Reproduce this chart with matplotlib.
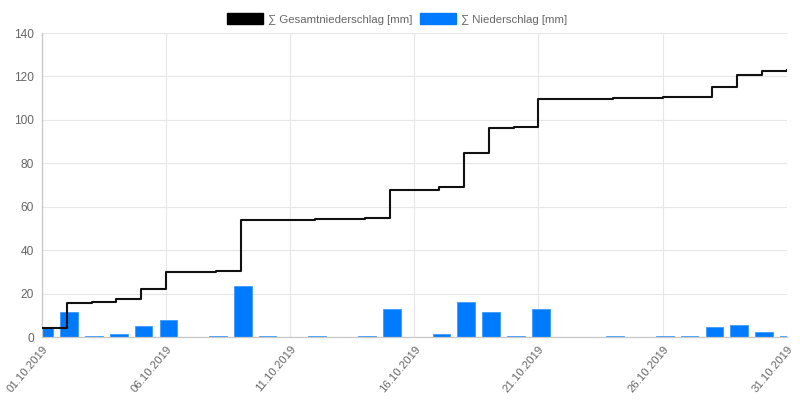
import matplotlib
matplotlib.use("Agg")
import matplotlib.pyplot as plt
from matplotlib.patches import Patch

plt.rcParams['font.family'] = ['Liberation Sans', 'DejaVu Sans']

days = [f"{d:02d}.10.2019" for d in range(1, 32)]
daily = [4.3, 11.5, 0.4, 1.5, 5.0, 7.7, 0.0, 0.4, 23.4, 0.4,
         0.0, 0.3, 0.0, 0.3, 13.0, 0.0, 1.5, 16.0, 11.6, 0.3,
         13.1, 0.0, 0.0, 0.3, 0.0, 0.5, 0.3, 4.6, 5.6, 2.1, 0.3]
total = [4.3, 15.6, 16.0, 17.4, 22.3, 30.0, 30.0, 30.6, 53.7, 54.0,
         54.0, 54.3, 54.3, 54.6, 67.5, 67.5, 68.9, 84.9, 96.4, 96.7,
         109.8, 109.8, 109.8, 110.1, 110.1, 110.4, 110.7, 115.2, 120.6, 122.6, 122.8]
tick_labels = ["01.10.2019", "06.10.2019", "11.10.2019", "16.10.2019",
               "21.10.2019", "26.10.2019", "31.10.2019"]
label_total = "∑ Gesamtniederschlag [mm]"
label_daily = "∑ Niederschlag [mm]"

BLUE = '#007bff'
GRAY = '#666666'

fig = plt.figure(figsize=(8, 4.12), dpi=100)
ax = fig.add_axes([42 / 800, 1 - 337 / 412, (786.7 - 42) / 800, (337 - 33) / 412])

x = list(range(len(days)))
xb = [i + 0.09 for i in x]
ax.bar(xb, daily, width=0.71, color=BLUE, edgecolor='#3d9bff', linewidth=0.6, zorder=2)
ax.step(x, total, where='post', color='#111111', linewidth=1.5, zorder=3)

ax.set_xlim(0, 30)
ax.set_ylim(0, 140)
ax.set_yticks(range(0, 141, 20))
ax.set_xticks([0, 5, 10, 15, 20, 25, 30])
ax.set_xticklabels(tick_labels, rotation=50, ha='right', va='top', rotation_mode='anchor')

ax.grid(True, color='#e6e6e6', linewidth=0.8, zorder=0)
ax.set_axisbelow(True)
for s in ['top', 'right']:
    ax.spines[s].set_visible(False)
for s in ['left', 'bottom']:
    ax.spines[s].set_color('#c8c8c8')
    ax.spines[s].set_linewidth(0.9)
ax.tick_params(axis='both', length=0, labelcolor=GRAY)
ax.tick_params(axis='y', pad=6, labelsize=8.6)
ax.tick_params(axis='x', pad=5, labelsize=8.2)

fs = 8.2
px = fs * 100 / 72
handles = [Patch(facecolor='black', edgecolor='black', label=label_total),
           Patch(facecolor=BLUE, edgecolor=BLUE, label=label_daily)]
leg = fig.legend(handles=handles, loc='center', bbox_to_anchor=(0.496, 1 - 19 / 412),
                 ncol=2, frameon=False, fontsize=fs, handlelength=36 / px, handleheight=12 / px,
                 handletextpad=5 / px, columnspacing=8 / px, borderpad=0)
for t in leg.get_texts():
    t.set_color(GRAY)

fig.savefig('out.png', dpi=100)
